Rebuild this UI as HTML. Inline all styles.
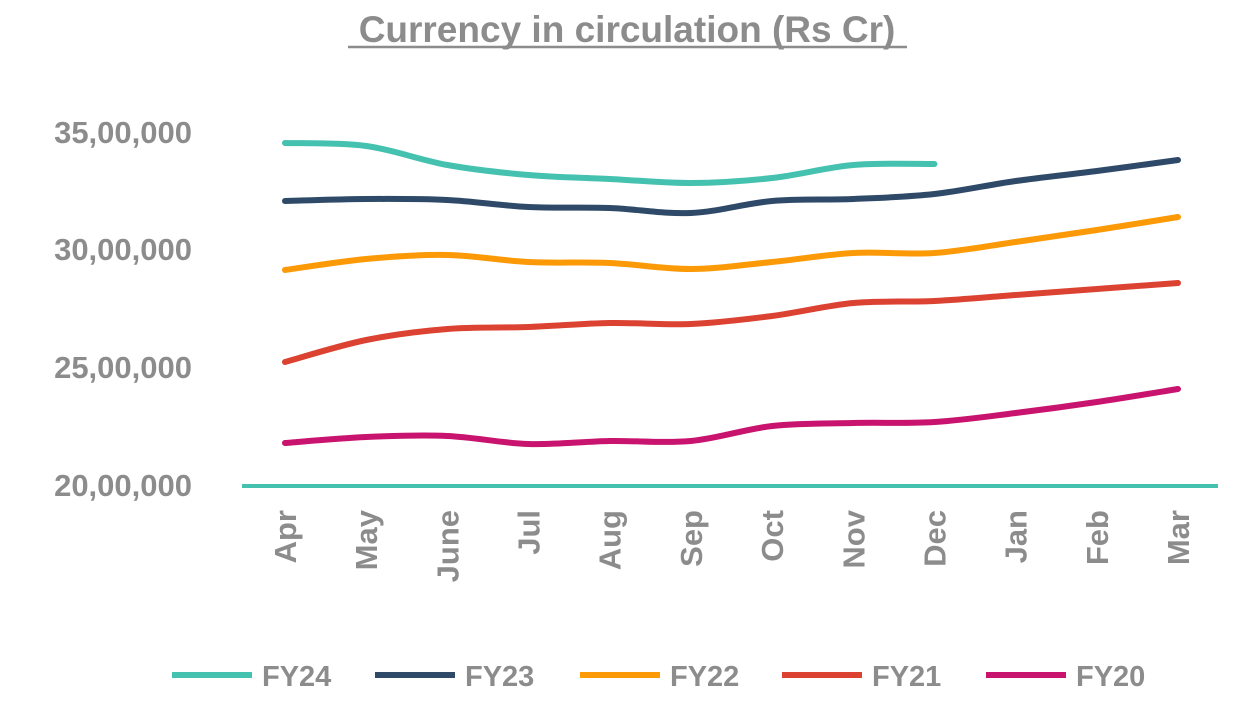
<!DOCTYPE html>
<html><head><meta charset="utf-8"><style>
body{margin:0;background:#fff;}
svg text{font-family:"Liberation Sans",sans-serif;font-weight:bold;fill:#8c8c8c;}
</style></head><body>
<svg id="s" width="1252" height="706" viewBox="0 0 1252 706" xmlns="http://www.w3.org/2000/svg">
<text x="627" y="42" font-size="37" text-anchor="middle">Currency in circulation (Rs Cr)</text>
<line x1="348" y1="47" x2="907" y2="47" stroke="#8c8c8c" stroke-width="2.5"/>
<g font-size="31" text-anchor="end">
<text x="192" y="143">35,00,000</text>
<text x="192" y="260">30,00,000</text>
<text x="192" y="378">25,00,000</text>
<text x="192" y="496">20,00,000</text>
</g>
<line x1="242" y1="486" x2="1218" y2="486" stroke="#45c1b0" stroke-width="4"/>
<g id="xl" font-size="31" text-anchor="end"></g>
<g id="lines" fill="none" stroke-width="6" stroke-linecap="round"></g>
<g font-size="29">
<line x1="172" y1="675" x2="252" y2="675" stroke="#45c1b0" stroke-width="6"/><text x="262" y="686">FY24</text>
<line x1="375" y1="675" x2="455" y2="675" stroke="#2e4a68" stroke-width="6"/><text x="465" y="686">FY23</text>
<line x1="580" y1="675" x2="660" y2="675" stroke="#fb9a06" stroke-width="6"/><text x="670" y="686">FY22</text>
<line x1="782" y1="675" x2="862" y2="675" stroke="#dc4232" stroke-width="6"/><text x="872" y="686">FY21</text>
<line x1="986" y1="675" x2="1066" y2="675" stroke="#c8146e" stroke-width="6"/><text x="1076" y="686">FY20</text>
</g>
</svg>
<script>
var ns="http://www.w3.org/2000/svg";
var m=["Apr","May","June","Jul","Aug","Sep","Oct","Nov","Dec","Jan","Feb","Mar"];
var x0=285,dx=(1178-285)/11;
var xl=document.getElementById("xl");
m.forEach(function(t,i){var e=document.createElementNS(ns,"text");var x=x0+i*dx+11;
e.setAttribute("transform","translate("+x+",510) rotate(-90)");e.textContent=t;xl.appendChild(e);});
var S=[
["#c8146e",[443,437,436,444,441,441,426,423,422,413,402,389]],
["#dc4232",[362,340,329,327,323,324,316,303,301,295,289,283]],
["#fb9a06",[270,259,255,262,263,269,262,253,253,242,230,217]],
["#2e4a68",[201,199,200,207,208,213,201,199,194,181,171,160]],
["#45c1b0",[143,146,165,175,179,183,178,165,164]]];
var g=document.getElementById("lines");
S.forEach(function(s){var p=s[1].map(function(y,i){return [x0+i*dx,y];});
var d="M"+p[0][0]+","+p[0][1];
for(var i=0;i<p.length-1;i++){var a=p[i-1]||p[i],b=p[i],c=p[i+1],e=p[i+2]||c;
d+=" C"+(b[0]+(c[0]-a[0])/6)+","+(b[1]+(c[1]-a[1])/6)+" "+(c[0]-(e[0]-b[0])/6)+","+(c[1]-(e[1]-b[1])/6)+" "+c[0]+","+c[1];}
var pa=document.createElementNS(ns,"path");pa.setAttribute("d",d);pa.setAttribute("stroke",s[0]);g.appendChild(pa);});
</script>
</body></html>
